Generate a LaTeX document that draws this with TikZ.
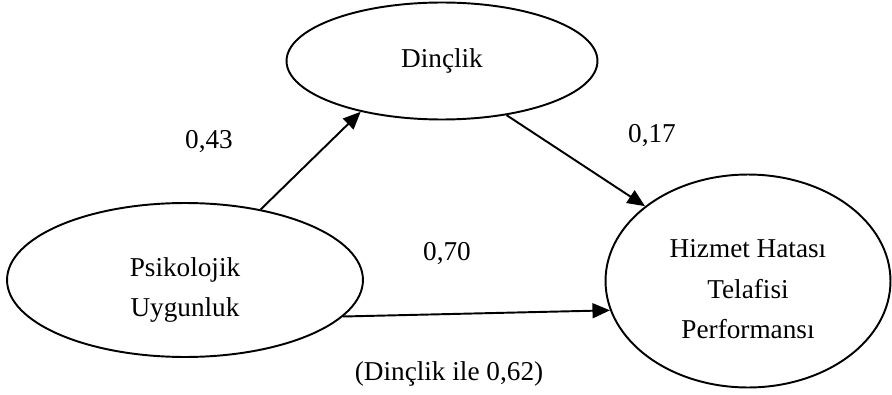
\documentclass[tikz,border=0pt]{standalone}
\usepackage{fontspec}
\setmainfont{Liberation Serif}
\usetikzlibrary{arrows.meta, shapes.geometric}

\begin{document}
\begin{tikzpicture}[x=0.02cm, y=-0.02cm, font=\fontsize{15.5}{23.2}\selectfont,
  every node/.style={inner sep=0pt},
  oval/.style={draw, ellipse, line width=1.1pt, align=center},
  yol/.style={-{Triangle[length=10pt, width=8.5pt]}, line width=1.1pt}]
\useasboundingbox (0,0) rectangle (892,395);
\node[oval, minimum width=6.22cm, minimum height=2.34cm] (din) at (442,61) {Dinçlik};
\node[oval, minimum width=7.12cm, minimum height=3.08cm] (psi) at (185,280) {\rule{0pt}{22pt}Psikolojik\\Uygunluk};
\node[oval, minimum width=5.70cm, minimum height=4.26cm] (hiz) at (748,281) {\rule{0pt}{19.5pt}Hizmet Hatası\\Telafisi\\Performansı};
\node[anchor=base] (l1) at (209,148) {0,43};
\node[anchor=base] (l2) at (652,142) {0,17};
\node[anchor=base] (l3) at (447,260) {0,70};
\node[anchor=base] (l4) at (449,380) {(Dinçlik ile 0,62)};
\draw[yol] (psi.43) -- (din.212);
\draw[yol] (din.320) -- (hiz.144);
\draw[yol] (psi.347) -- (hiz.192);
\end{tikzpicture}
\end{document}
